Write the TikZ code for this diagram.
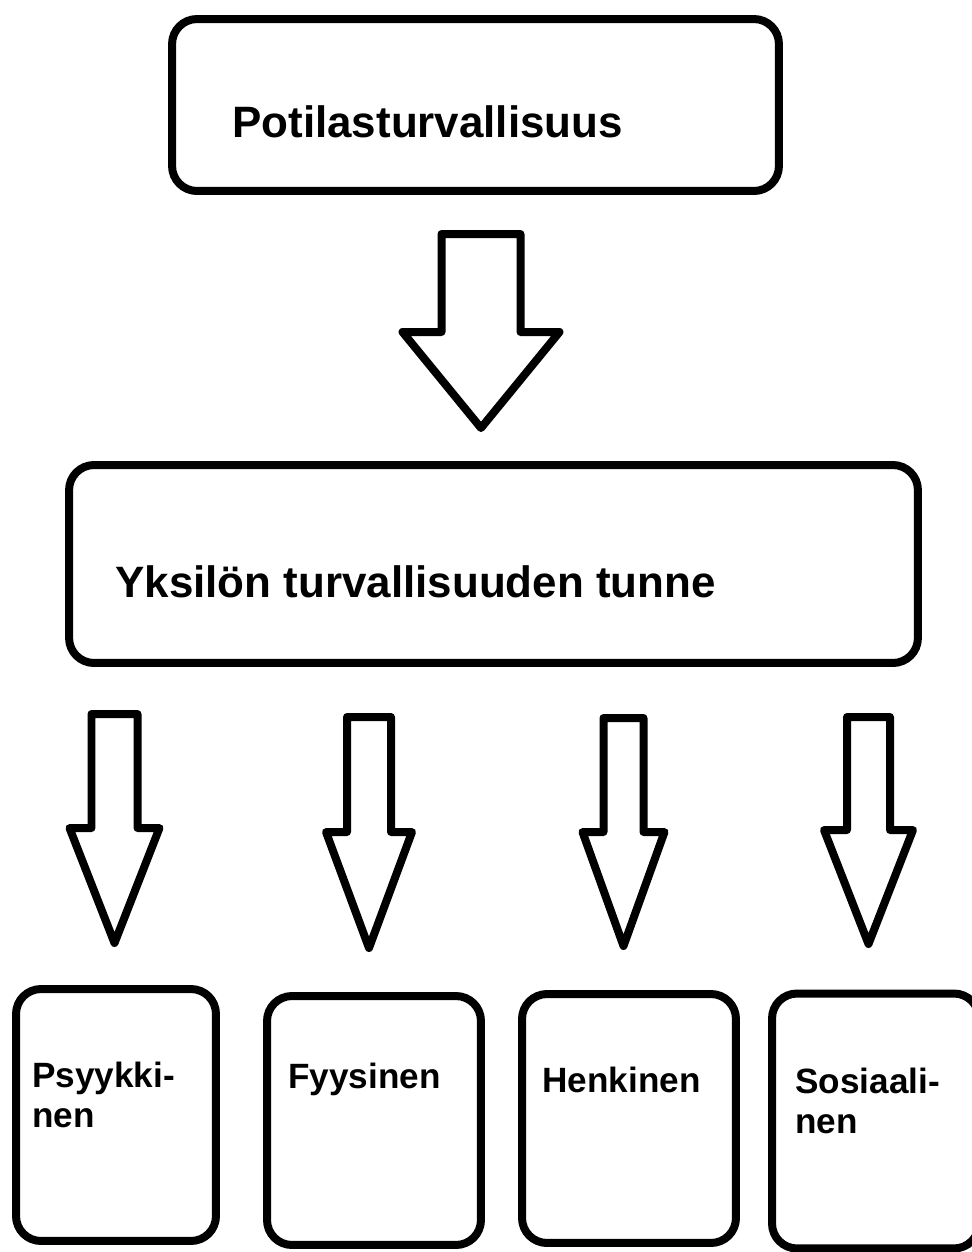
\documentclass[tikz,border=0pt]{standalone}
\usepackage{fontspec}
\setmainfont{Liberation Sans}
\tikzset{
  caja/.style={draw,line width=0.16cm,rounded corners=0.5cm,inner sep=0pt},
  nota/.style={inner sep=0pt,anchor=north west,align=left,font=\bfseries\fontsize{20}{22.8}\selectfont},
  titulo/.style={inner sep=0pt,anchor=base west,font=\bfseries\fontsize{25}{30}\selectfont},
  flecha/.style={line width=0.16cm,line join=round}
}
\begin{document}
\begin{tikzpicture}[x=0.02cm,y=-0.02cm]
  \useasboundingbox (0,0) rectangle (972,1252);
  \fill[white] (0,0) rectangle (972,1252);
  % Cajas
  \node[caja,minimum width=12.14cm,minimum height=3.44cm] (potilas) at (475.5,105) {};
  \node[caja,minimum width=16.98cm,minimum height=3.96cm] (yksilo) at (493.5,564) {};
  \node[caja,minimum width=4cm,minimum height=5.04cm] (psyyk) at (116,1115) {};
  \node[caja,minimum width=4.28cm,minimum height=4.98cm] (fyys) at (374,1120.5) {};
  \node[caja,minimum width=4.28cm,minimum height=4.98cm] (henk) at (629,1118.5) {};
  \node[caja,minimum width=4.14cm,minimum height=5.1cm] (sosi) at (875.5,1121) {};
  % Textos
  \node[titulo] (tpotilas) at (232,137) {Potilasturvallisuus};
  \node[titulo] (tyksilo) at (115,597) {Yksilön turvallisuuden tunne};
  \node[nota] (tpsyyk) at (32,1062) {Psyykki-\\nen};
  \node[nota] (tfyys) at (288,1063) {Fyysinen};
  \node[nota] (thenk) at (542,1067) {Henkinen};
  \node[nota] (tsosi) at (795,1068) {Sosiaali-\\nen};
  % Flecha grande
  \draw[flecha] (441.5,234) -- (520.5,234) -- (520.5,332) -- (559.5,332)
    -- (481,428) -- (402.5,332) -- (441.5,332) -- cycle;
  % Flechas pequenas: centro, medio ancho del tallo, medio ancho de la punta, arriba, hombro, punta
  \foreach \cx/\s/\w/\t/\h/\p in {114.5/23/45/714/828/943, 369/22/43/717/832/948,
                                   623.5/20/41/718/832/946, 868.5/21.5/44.5/717/830/944}
    \draw[flecha] (\cx-\s,\t) -- (\cx+\s,\t) -- (\cx+\s,\h) -- (\cx+\w,\h)
      -- (\cx,\p) -- (\cx-\w,\h) -- (\cx-\s,\h) -- cycle;
\end{tikzpicture}
\end{document}
